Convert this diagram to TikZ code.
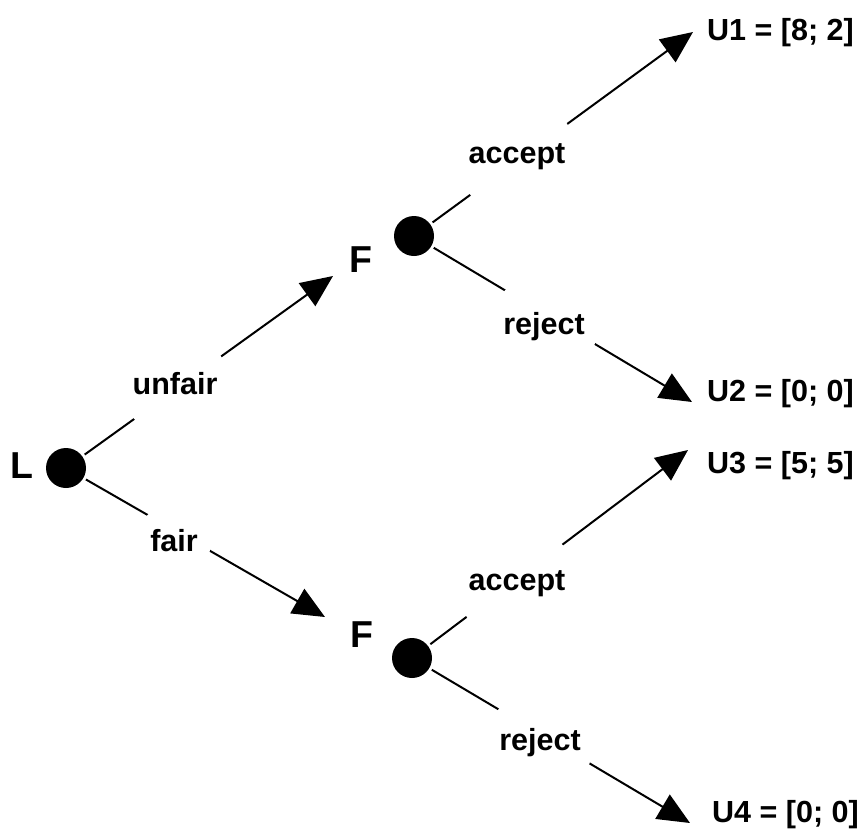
\documentclass[tikz,border=0pt]{standalone}
\usepackage{fontspec}
\setmainfont{Liberation Sans}
\usetikzlibrary{arrows.meta}
\begin{document}
\begin{tikzpicture}[x=1pt,y=-1pt,
  decision/.style={circle,fill=black,minimum size=40pt,inner sep=0pt,outer sep=3pt},
  player/.style={font=\fontsize{37.5}{40}\selectfont\bfseries,inner sep=0pt,anchor=base west},
  payoff/.style={font=\fontsize{30.5}{34}\selectfont\bfseries,inner sep=0pt,anchor=base west},
  move/.style={font=\fontsize{30.5}{34}\selectfont\bfseries,circle,fill=white,inner sep=8pt},
  branch/.style={line width=2pt,-{Triangle[length=32pt,width=28pt]}},
]
\useasboundingbox (0,0) rectangle (866,835);

% decision points
\node[decision] (L)  at (66,468)  {};
\node[decision] (Ft) at (414,236) {};
\node[decision] (Fb) at (412,658) {};

% players
\node[player] (Ltxt)  at (10,478)  {L};
\node[player] (Fttxt) at (349,272) {F};
\node[player] (Fbtxt) at (350,647) {F};

% outcomes
\node[payoff] (U1) at (707,40)  {U1 = [8; 2]};
\node[payoff] (U2) at (707,401) {U2 = [0; 0]};
\node[payoff] (U3) at (707,473) {U3 = [5; 5]};
\node[payoff] (U4) at (712,822) {U4 = [0; 0]};

% arrow tips
\coordinate (tFt) at (333,276);
\coordinate (tFb) at (325,617);
\coordinate (tU1) at (693,32);
\coordinate (tU2) at (692,402);
\coordinate (tU3) at (688,450);
\coordinate (tU4) at (690,823);

% branches
\draw[branch] (L)  -- (tFt);
\draw[branch] (L)  -- (tFb);
\draw[branch] (Ft) -- (tU1);
\draw[branch] (Ft) -- (tU2);
\draw[branch] (Fb) -- (tU3);
\draw[branch] (Fb) -- (tU4);

% move labels
\node[move] (m1) at (175,384) {unfair};
\node[move] (m2) at (174,541) {fair};
\node[move] (m3) at (517,157) {accept};
\node[move] (m4) at (544,327) {reject};
\node[move] (m5) at (517,584) {accept};
\node[move] (m6) at (540,743) {reject};
\end{tikzpicture}
\end{document}
